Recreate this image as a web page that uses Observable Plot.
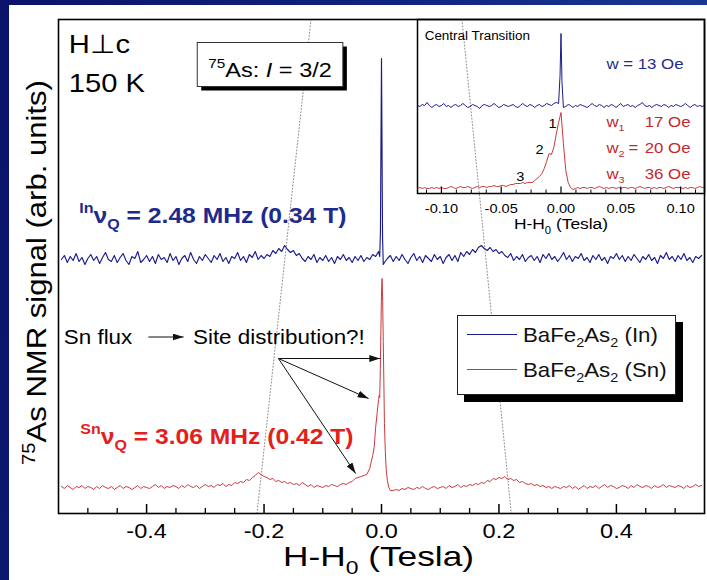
<!DOCTYPE html>
<html>
<head>
<meta charset="utf-8">
<script src="https://cdn.jsdelivr.net/npm/d3@7"></script>
<script src="https://cdn.jsdelivr.net/npm/@observablehq/plot@0.6"></script>
<style>
  html, body { margin: 0; padding: 0; }
  body {
    width: 707px; height: 580px; overflow: hidden; position: relative;
    background: linear-gradient(100deg, #0a1369 0%, #10217e 45%, #1c3d9b 100%);
    font-family: "Liberation Sans", Arial, sans-serif;
  }
  #figure { position: absolute; left: 9px; top: 5px; width: 698px; height: 575px; background: #fff; }
  #figure svg { position: absolute; }
  #legend {
    position: absolute; left: 448px; top: 310px; width: 219px; height: 80px;
    box-sizing: border-box; border: 1px solid #222; background: #fff;
    box-shadow: 7px 7px 0 #000; padding-top: 1px;
  }
  #legend .row { display: flex; align-items: center; height: 35px; }
  #legend .swatch { width: 50px; height: 0; margin-left: 9px; margin-right: 6px; border-top: 1px solid; }
  #legend .name {
    display: inline-block; font-size: 21px; white-space: nowrap; color: #111;
    transform: scaleX(1.06); transform-origin: left center;
  }
  #legend sub { font-size: 65%; vertical-align: -0.35em; line-height: 0; }
</style>
</head>
<body>
<div id="figure"></div>
<script>
// ---------------------------------------------------------------------------
// 75As NMR spectra of BaFe2As2 (H perpendicular to c, 150 K)
// ---------------------------------------------------------------------------

// Full spectra: H-H0 (T) of the first point and the field step
const sweepStart = -0.545;
const sweepStep = 0.005;

// crystal grown from In flux (arb. units)
const inSpectrum = [
  254,258,251,257,253,260,252,256,249,255,
  259,253,257,250,256,261,254,252,258,251,
  256,260,253,249,257,255,262,251,254,258,
  252,257,250,259,254,256,251,260,253,257,
  249,255,258,252,261,254,250,257,253,259,
  255,251,258,254,260,252,256,250,257,255,
  261,253,257,251,259,256,262,254,258,255,
  259,257,263,260,265,262,268,264,261,263,
  258,260,255,252,257,254,259,251,256,253,
  258,252,256,250,257,254,259,253,256,251,
  257,253,258,252,256,254,259,257,262,455,
  251,255,258,252,257,253,259,254,250,256,
  260,253,257,251,258,255,252,259,254,257,
  250,256,259,253,258,252,261,257,262,259,
  264,261,266,268,265,263,266,262,264,260,
  262,258,256,260,253,257,254,259,252,256,
  258,253,257,251,259,255,260,254,257,252,
  256,261,254,258,252,257,255,260,253,256,
  251,258,254,259,253,256,250,257,255,260,
  254,258,252,257,253,259,255,251,257,254,
  259,253,256,250,258,255,261,254,257,252,
  258,254,260,253,256,251,257,255,258
];

// crystal grown from Sn flux (arb. units)
const snSpectrum = [
  27,25,28,26,24,27,26,28,25,27,
  26,24,27,25,28,26,25,27,24,26,
  28,25,27,26,24,26,28,25,27,26,
  25,27,29,26,28,25,27,26,28,27,
  25,28,26,29,27,26,28,25,27,29,
  27,28,26,29,28,30,27,29,28,31,
  30,32,31,34,33,36,38,41,39,37,
  36,34,35,32,33,31,32,30,31,29,
  30,28,31,29,27,29,26,28,27,26,
  28,27,29,28,27,29,30,29,31,32,
  35,36,37,38,39,45,58,86,114,222,
  90,33,23,23,24,23,25,24,26,25,
  24,26,25,27,25,24,26,27,25,26,
  27,25,28,26,27,29,26,28,27,29,
  28,30,29,31,30,33,32,35,34,36,
  35,37,34,35,33,34,31,32,30,29,
  30,28,29,27,28,26,27,25,27,26,
  25,27,26,28,25,27,24,26,28,25,
  27,26,28,25,27,29,26,28,27,25,
  26,28,27,25,28,26,29,27,26,28,
  27,25,28,26,27,29,26,28,27,26,
  28,27,25,28,26,27,29,27,28
];

// extra points taken across the narrow central lines
const inCoreField  = [-0.003, -0.0018, -0.0008, 0.0008, 0.0018, 0.003];
const inCoreSignal = [257, 282, 380, 372, 276, 249];
const snCoreField  = [-0.0125, -0.0075, -0.004, -0.003, -0.002, -0.001, 0.001, 0.002, 0.003, 0.004, 0.0065, 0.008, 0.0125];
const snCoreSignal = [66, 100, 118, 116, 145, 185, 235, 212, 172, 132, 62, 44, 26];

// Central transition (inset): first point and step
const centralStart = -0.12;
const centralStep = 0.002;

const inCentral = [
  88,87,89,88,91,88,86,88,89,87,
  88,90,87,88,86,88,89,87,88,90,
  88,86,87,89,88,87,85,88,89,88,
  87,88,90,88,86,87,89,88,87,88,
  89,87,86,88,90,88,87,89,88,86,
  88,89,87,88,90,89,88,90,91,90,
  160,
  86,87,89,88,86,88,87,89,88,
  87,86,88,90,88,87,89,88,86,88,
  87,89,88,86,88,90,87,88,89,87,
  88,86,88,89,91,88,87,88,86,88,
  89,88,87,89,88,86,88,87,89,88,
  87,88,90,88,86,88,89,87,88,87,88
];
const inCentralCoreField  = [-0.0008, 0.0008];
const inCentralCoreSignal = [118, 112];

const snCentral = [
  5,6,5,6,5,5,6,5,6,5,
  6,5,5,6,7,6,5,6,7,6,
  6,7,6,5,6,7,6,7,7,6,
  7,7,8,7,7,8,8,7,8,9,
  9,10,10,10,11,10,11,11,11,13,
  15,17,20,25,32,40,39,46,59,71,
  81,
  50,23,11,6,4,5,
  6,5,6,
  6,5,6,6,5,6,7,6,5,6,
  5,6,6,5,6,5,6,6,5,6,
  6,5,6,7,6,5,6,6,5,6,
  5,6,6,5,6,7,6,5,6,6,
  6,5,6,5,6,6,5,6,7,6,6
];

// Axis ticks and labels
const majorTicks = [-0.4, -0.2, 0, 0.2, 0.4];
const minorTicks = [-0.5, -0.45, -0.35, -0.3, -0.25, -0.15, -0.1, -0.05, 0.05, 0.1, 0.15, 0.25, 0.3, 0.35, 0.45, 0.5];
const insetMajorTicks = [-0.1, -0.05, 0, 0.05, 0.1];
const insetMinorTicks = [-0.1125, -0.0875, -0.075, -0.0625, -0.0375, -0.025, -0.0125, 0.0125, 0.025, 0.0375, 0.0625, 0.075, 0.0875, 0.1125];
const xTitle = "H-H_{0} (Tesla)";
const yTitle = "^{75}As NMR signal (arb. units)";

// Series
const seriesNames = ["BaFe_{2}As_{2} (In)", "BaFe_{2}As_{2} (Sn)"];
const quadrupoleLabels = ["^{In}ν_{Q} = 2.48 MHz (0.34 T)", "^{Sn}ν_{Q} = 3.06 MHz (0.42 T)"];
const conditionLabels = ["H⊥c", "150 K"];
const nucleusLabel = "^{75}As: ~{I} = 3/2";
const insetTitle = "Central Transition";
const inWidthLabel = "w = 13 Oe";
const snWidthNames = ["w_{1}", "w_{2}", "w_{3}"];
const snWidthValues = ["17 Oe", "20 Oe", "36 Oe"];
const peakNumbers = ["1", "2", "3"];

// ---------------------------------------------------------------------------
const FONT = "'Liberation Sans', Arial, Helvetica, sans-serif";
const IN_LINE = "#1b1b8c", SN_LINE = "#c8393d";
const IN_TEXT = "#1e2a8c", SN_TEXT = "#e3201b", SN_INSET_TEXT = "#c3282d";

function spectrum(start, step, values, coreField = [], coreSignal = []) {
  const rows = values.map((v, i) => ({field: +(start + i * step).toFixed(5), signal: v}));
  coreField.forEach((f, i) => rows.push({field: f, signal: coreSignal[i]}));
  return rows.sort((a, b) => a.field - b.field);
}

const inRows = spectrum(sweepStart, sweepStep, inSpectrum, inCoreField, inCoreSignal);
const snRows = spectrum(sweepStart, sweepStep, snSpectrum, snCoreField, snCoreSignal);
const inCentralRows = spectrum(centralStart, centralStep, inCentral, inCentralCoreField, inCentralCoreSignal);
const snCentralRows = spectrum(centralStart, centralStep, snCentral);

// dotted guides through the In and Sn satellites, frame top to frame bottom
const guides = [
  {guide: "low", field: -0.120, signal: 494}, {guide: "low", field: -0.212, signal: 0},
  {guide: "high", field: 0.137, signal: 494}, {guide: "high", field: 0.221, signal: 0}
];

const ident = d => d;

const main = Plot.plot({
  width: 698, height: 575,
  marginLeft: 49, marginRight: 3, marginTop: 14, marginBottom: 67,
  x: {domain: [-0.55, 0.55], label: null},
  y: {domain: [0, 494], axis: null},
  style: {fontFamily: FONT, background: "transparent", color: "#000", overflow: "visible"},
  marks: [
    Plot.line(guides, {x: "field", y: "signal", z: "guide", stroke: "#8c8c8c", strokeWidth: 1, strokeDasharray: "1,2.2"}),
    Plot.line(inRows, {x: "field", y: "signal", stroke: IN_LINE, strokeWidth: 1.15}),
    Plot.line(snRows, {x: "field", y: "signal", stroke: SN_LINE, strokeWidth: 1}),
    Plot.ruleX(minorTicks, {x: ident, insetTop: 489, stroke: "#000", strokeWidth: 1.3}),
    Plot.ruleX(majorTicks, {x: ident, insetTop: 485, stroke: "#000", strokeWidth: 1.5}),
    Plot.axisX({ticks: majorTicks, tickSize: 0, tickPadding: 10, fontSize: 21, tickFormat: d => d.toFixed(1), label: null}),
    Plot.text([xTitle], {text: ident, frameAnchor: "bottom", textAnchor: "middle", lineAnchor: "bottom", dy: 52, dx: -3, fontSize: 28}),
    Plot.text([yTitle], {text: ident, frameAnchor: "left", textAnchor: "middle", rotate: -90, dx: -21, dy: 6, fontSize: 27}),
    Plot.text(conditionLabels, {text: ident, x: -0.5325, y: [461, 422], textAnchor: "start", lineAnchor: "bottom", fontSize: 26}),
    Plot.text([nucleusLabel], {text: ident, x: -0.295, y: 437, textAnchor: "start", lineAnchor: "bottom", fontSize: 21}),
    Plot.text(quadrupoleLabels, {text: ident, x: [-0.5145, -0.513], y: [291, 70], textAnchor: "start", lineAnchor: "bottom",
      fontSize: 22, fontWeight: "bold", fill: [IN_TEXT, SN_TEXT]}),
    Plot.text(["Sn flux", "Site distribution?!"], {text: ident, x: [-0.541, -0.321], y: 170, textAnchor: "start", lineAnchor: "bottom", fontSize: 20}),
    Plot.link([
      {x1: -0.397, y1: 176.5, x2: -0.337, y2: 176.5},
      {x1: -0.1755, y1: 155, x2: -0.002, y2: 155},
      {x1: -0.1755, y1: 155, x2: -0.022, y2: 115},
      {x1: -0.1755, y1: 155, x2: -0.044, y2: 40}
    ], {x1: "x1", y1: "y1", x2: "x2", y2: "y2", stroke: "#111", strokeWidth: 1}),
    Plot.frame({stroke: "#000", strokeWidth: 1.6})
  ]
});

const inset = Plot.plot({
  width: 300, height: 240,
  marginLeft: 10, marginRight: 3, marginTop: 10, marginBottom: 56,
  x: {domain: [-0.12, 0.12], label: null},
  y: {domain: [0, 174], axis: null},
  style: {fontFamily: FONT, background: "transparent", color: "#000", overflow: "visible"},
  marks: [
    Plot.line(inCentralRows, {x: "field", y: "signal", stroke: IN_LINE, strokeWidth: 1}),
    Plot.line(snCentralRows, {x: "field", y: "signal", stroke: SN_LINE, strokeWidth: 1}),
    Plot.ruleX(insetMinorTicks, {x: ident, insetTop: 170.5, stroke: "#000", strokeWidth: 1}),
    Plot.ruleX(insetMajorTicks, {x: ident, insetTop: 167.5, stroke: "#000", strokeWidth: 1.2}),
    Plot.axisX({ticks: insetMajorTicks, tickSize: 0, tickPadding: 10, fontSize: 13, tickFormat: d => d.toFixed(2), label: null}),
    Plot.text([xTitle], {text: ident, frameAnchor: "bottom", textAnchor: "middle", lineAnchor: "bottom", dy: 35.5, fontSize: 15.5}),
    Plot.text([insetTitle], {text: ident, x: -0.114, y: 154, textAnchor: "start", lineAnchor: "bottom", fontSize: 12}),
    Plot.text([inWidthLabel], {text: ident, x: 0.038, y: 125, textAnchor: "start", lineAnchor: "bottom", fontSize: 15, fill: IN_TEXT}),
    Plot.text(snWidthNames, {text: ident, x: 0.038, y: [67, 41, 15], textAnchor: "start", lineAnchor: "bottom", fontSize: 15, fill: SN_INSET_TEXT}),
    Plot.text(["="], {text: ident, x: 0.0565, y: 41, textAnchor: "start", lineAnchor: "bottom", fontSize: 15, fill: SN_INSET_TEXT}),
    Plot.text(snWidthValues, {text: ident, x: 0.070, y: [67, 41, 15], textAnchor: "start", lineAnchor: "bottom", fontSize: 15, fill: SN_INSET_TEXT}),
    Plot.text(peakNumbers, {text: ident, x: [-0.007, -0.018, -0.034], y: [66, 40, 13], textAnchor: "middle", lineAnchor: "bottom", fontSize: 13}),
    Plot.frame({stroke: "#000", strokeWidth: 1.5})
  ]
});

const figure = document.getElementById("figure");
main.style.left = "0px"; main.style.top = "0px";
inset.style.left = "398px"; inset.style.top = "4px";
figure.appendChild(main);
figure.appendChild(inset);

// ---- rich text: ^{sup}, _{sub}, ~{italic} ---------------------------------
const TOKEN = /([\^_~])\{([^}]*)\}|([^\^_~]+)/g;
const SCRIPT = {"^": {size: 0.65, shift: -0.42}, "_": {size: 0.65, shift: 0.3}, "~": {italic: true}};
function setRich(el, s) {
  const fs = parseFloat(getComputedStyle(el).fontSize);
  el.textContent = "";
  let cur = 0;
  for (const m of s.matchAll(TOKEN)) {
    const st = SCRIPT[m[1]] || {};
    const t = document.createElementNS("http://www.w3.org/2000/svg", "tspan");
    const target = (st.shift || 0) * fs;
    if (st.size) t.setAttribute("font-size", (st.size * fs).toFixed(2));
    if (st.italic) t.setAttribute("font-style", "italic");
    if (target !== cur) { t.setAttribute("dy", (target - cur).toFixed(2)); cur = target; }
    t.textContent = m[1] ? m[2] : m[3];
    el.appendChild(t);
  }
}
function toHtml(s) {
  return s.replace(/_\{([^}]*)\}/g, "<sub>$1</sub>").replace(/\^\{([^}]*)\}/g, "<sup>$1</sup>");
}

// the typeface of the figure runs a little wider than Arial
const WIDEN = 1.12;
const widenFor = (svg, raw) => (svg === main && raw === xTitle) ? 1.26 : (raw === yTitle ? 1.15 : WIDEN);

const boxed = [];
for (const svg of [main, inset]) {
  svg.querySelectorAll("text").forEach(el => {
    const raw = el.textContent;
    if (raw === nucleusLabel) boxed.push(el);
    const k = widenFor(svg, raw);
    if (/[\^_~]\{/.test(raw)) setRich(el, raw);
    const w = el.getComputedTextLength();
    if (w > 0) {
      el.setAttribute("textLength", (w * k).toFixed(1));
      el.setAttribute("lengthAdjust", "spacingAndGlyphs");
    }
  });
}

// framed note with drop shadow
boxed.forEach(el => {
  const b = el.getBBox();
  const g = el.parentNode;
  const tr = el.getAttribute("transform");
  const make = (dx, fill, stroke) => {
    const r = document.createElementNS("http://www.w3.org/2000/svg", "rect");
    r.setAttribute("x", b.x - 11 + dx);
    r.setAttribute("y", -34 + dx);
    r.setAttribute("width", b.width + 22);
    r.setAttribute("height", 44);
    r.setAttribute("fill", fill);
    if (stroke) { r.setAttribute("stroke", stroke); r.setAttribute("stroke-width", 1); }
    if (tr) r.setAttribute("transform", tr);
    g.insertBefore(r, el);
  };
  make(4, "#000", null);
  make(0, "#fff", "#333");
});

// filled arrow heads on the annotation arrows
const svgSel = d3.select(main);
const defs = svgSel.insert("defs", ":first-child");
defs.append("marker")
  .attr("id", "arrowhead").attr("viewBox", "0 0 11 7").attr("refX", 11).attr("refY", 3.5)
  .attr("markerWidth", 11).attr("markerHeight", 7).attr("markerUnits", "userSpaceOnUse").attr("orient", "auto")
  .append("path").attr("d", "M0,0L11,3.5L0,7Z").attr("fill", "#111");
svgSel.selectAll('g[aria-label="link"] path').attr("marker-end", "url(#arrowhead)");

// legend
const legend = d3.select(figure).append("div").attr("id", "legend");
seriesNames.forEach((name, i) => {
  const row = legend.append("div").attr("class", "row");
  row.append("span").attr("class", "swatch").style("border-top-color", [IN_LINE, SN_LINE][i]);
  row.append("span").attr("class", "name").html(toHtml(name));
});
</script>
</body>
</html>
